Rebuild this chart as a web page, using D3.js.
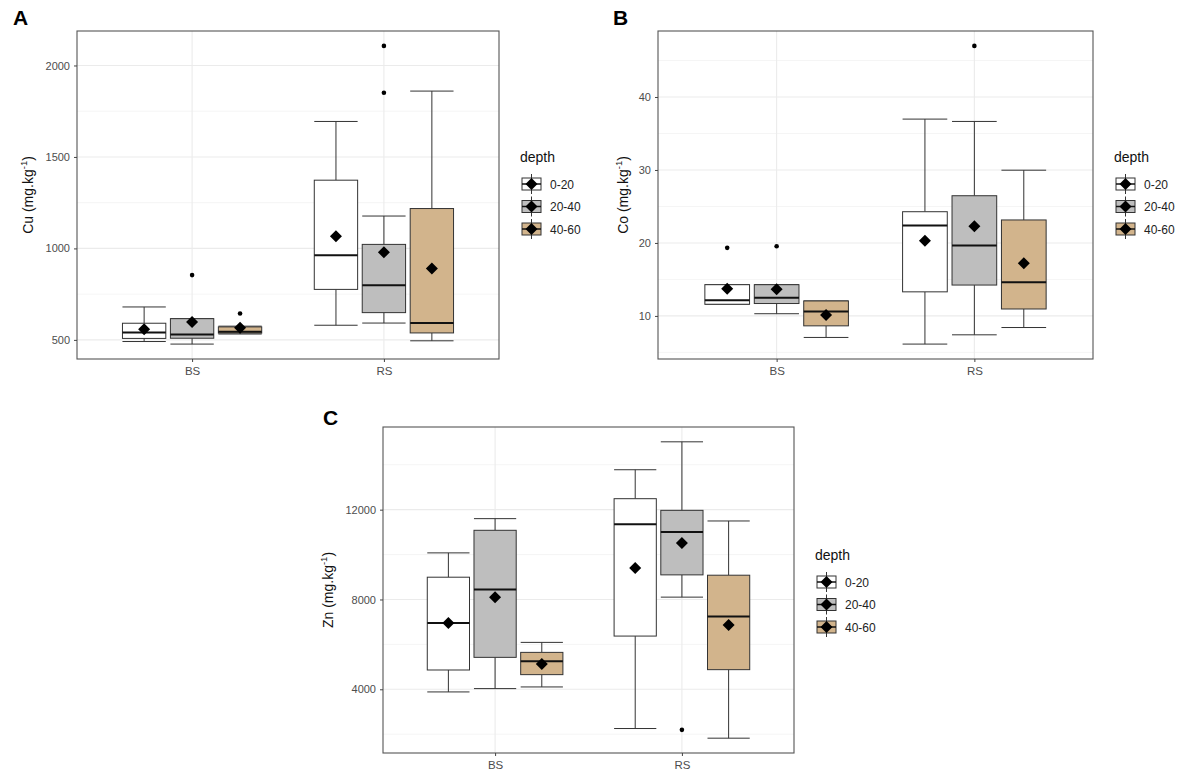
<!DOCTYPE html>
<html><head><meta charset="utf-8">
<script src="https://cdn.jsdelivr.net/npm/d3@7"></script>
<style>body{margin:0;background:#fff}svg{display:block}text{font-family:"Liberation Sans",Arial,sans-serif}</style>
</head><body><svg id="c" width="1181" height="774"></svg>
<script>
const categories = ["BS", "RS"];
const depths = ["0-20", "20-40", "40-60"];
// order: BS 0-20, BS 20-40, BS 40-60, RS 0-20, RS 20-40, RS 40-60
const cuLow  = [491, 477, 532, 580, 592, 495];
const cuQ1   = [508, 509, 537, 776, 649, 538];
const cuMed  = [540, 530, 545, 962, 799, 592];
const cuQ3   = [591, 616, 571, 1373, 1022, 1218];
const cuHigh = [680, 616, 575, 1694, 1177, 1860];
const cuMean = [558, 598, 567, 1066, 979, 890];
const cuOut  = [[], [854], [644], [], [2107, 1851], []];
const cuTicks = [500, 1000, 1500, 2000];

const coLow  = [11.6, 10.3, 7.05, 6.14, 7.41, 8.41];
const coQ1   = [11.6, 11.7, 8.64, 13.3, 14.23, 10.95];
const coMed  = [12.14, 12.5, 10.6, 22.4, 19.65, 14.6];
const coQ3   = [14.28, 14.28, 12.05, 24.28, 26.47, 23.15];
const coHigh = [14.28, 14.28, 12.05, 36.97, 36.65, 29.97];
const coMean = [13.74, 13.64, 10.14, 20.3, 22.28, 17.23];
const coOut  = [[19.33], [19.55], [], [], [47.0], []];
const coTicks = [10, 20, 30, 40];

const znLow  = [3882, 4030, 4104, 2252, 8104, 1822];
const znQ1   = [4859, 5422, 4652, 6370, 9096, 4874];
const znMed  = [6947, 8444, 5244, 11348, 11007, 7244];
const znQ3   = [8992, 11081, 5644, 12489, 11970, 9081];
const znHigh = [10075, 11600, 6089, 13778, 15022, 11496];
const znMean = [6950, 8104, 5126, 9407, 10519, 6859];
const znOut  = [[], [], [], [], [2193], []];
const znTicks = [4000, 8000, 12000];

const fills = ["#ffffff", "#bebebe", "#d2b48c"];
const svg = d3.select("#c");

function panel(cfg) {
  const g = svg.append("g");
  const n = categories.length * depths.length;
  const rows = d3.range(n).map(i => ({
    cat: categories[Math.floor(i / depths.length)], di: i % depths.length,
    low: cfg.low[i], q1: cfg.q1[i], med: cfg.med[i], q3: cfg.q3[i], high: cfg.high[i],
    mean: cfg.mean[i], out: cfg.out[i]
  }));
  const allV = rows.flatMap(r => [r.low, r.high, r.mean, ...r.out]);
  const [mn, mx] = d3.extent(allV);
  const pad = (mx - mn) * 0.05;
  const y = d3.scaleLinear().domain([mn - pad, mx + pad]).range([cfg.bottom, cfg.top]);
  const x = d3.scalePoint().domain(categories).range([cfg.left, cfg.right]).padding(0.6);
  const step = x.step();
  const dodge = 0.25 * step, bw = 0.226 * step;
  const cx = r => x(r.cat) + (r.di - 1) * dodge;

  // grid
  const minor = cfg.ticks.slice(0, -1).map((t, i) => (t + cfg.ticks[i + 1]) / 2);
  const tstep = cfg.ticks[1] - cfg.ticks[0];
  minor.unshift(cfg.ticks[0] - tstep / 2);
  minor.push(cfg.ticks[cfg.ticks.length - 1] + tstep / 2);
  const dom = y.domain();
  g.selectAll(".mn").data(minor.filter(v => v >= dom[0] && v <= dom[1])).enter().append("line")
    .attr("x1", cfg.left).attr("x2", cfg.right).attr("y1", d => y(d)).attr("y2", d => y(d))
    .attr("stroke", "#f2f2f2").attr("stroke-width", 0.8);
  g.selectAll(".mj").data(cfg.ticks).enter().append("line")
    .attr("x1", cfg.left).attr("x2", cfg.right).attr("y1", d => y(d)).attr("y2", d => y(d))
    .attr("stroke", "#ebebeb").attr("stroke-width", 1.1);
  g.selectAll(".vx").data(categories).enter().append("line")
    .attr("x1", d => x(d)).attr("x2", d => x(d)).attr("y1", cfg.top).attr("y2", cfg.bottom)
    .attr("stroke", "#ebebeb").attr("stroke-width", 1.1);

  // whiskers
  const bx = g.selectAll(".b").data(rows).enter().append("g");
  bx.append("line").attr("x1", cx).attr("x2", cx).attr("y1", d => y(d.high)).attr("y2", d => y(d.q3))
    .attr("stroke", "#333").attr("stroke-width", 1);
  bx.append("line").attr("x1", cx).attr("x2", cx).attr("y1", d => y(d.q1)).attr("y2", d => y(d.low))
    .attr("stroke", "#333").attr("stroke-width", 1);
  bx.append("line").attr("x1", d => cx(d) - bw / 2).attr("x2", d => cx(d) + bw / 2)
    .attr("y1", d => y(d.high)).attr("y2", d => y(d.high)).attr("stroke", "#333").attr("stroke-width", 1);
  bx.append("line").attr("x1", d => cx(d) - bw / 2).attr("x2", d => cx(d) + bw / 2)
    .attr("y1", d => y(d.low)).attr("y2", d => y(d.low)).attr("stroke", "#333").attr("stroke-width", 1);
  bx.append("rect").attr("x", d => cx(d) - bw / 2).attr("width", bw)
    .attr("y", d => y(d.q3)).attr("height", d => Math.max(0.5, y(d.q1) - y(d.q3)))
    .attr("fill", d => fills[d.di]).attr("stroke", "#333").attr("stroke-width", 1);
  bx.append("line").attr("x1", d => cx(d) - bw / 2).attr("x2", d => cx(d) + bw / 2)
    .attr("y1", d => y(d.med)).attr("y2", d => y(d.med)).attr("stroke", "#111").attr("stroke-width", 2);
  bx.selectAll(".o").data(d => d.out.map(v => ({v, d}))).enter().append("circle")
    .attr("cx", o => cx(o.d)).attr("cy", o => y(o.v)).attr("r", 2.3).attr("fill", "#000");
  const ds = 6;
  bx.append("path").attr("d", d => {
    const X = cx(d), Y = y(d.mean);
    return `M${X},${Y - ds}L${X + ds},${Y}L${X},${Y + ds}L${X - ds},${Y}Z`;
  }).attr("fill", "#000");

  // border
  g.append("rect").attr("x", cfg.left).attr("y", cfg.top).attr("width", cfg.right - cfg.left)
    .attr("height", cfg.bottom - cfg.top).attr("fill", "none").attr("stroke", "#555").attr("stroke-width", 1.1);

  // y axis
  const ya = g.append("g").attr("transform", `translate(${cfg.left},0)`)
    .call(d3.axisLeft(y).tickValues(cfg.ticks).tickFormat(d3.format("d")).tickSize(3).tickPadding(4));
  ya.select(".domain").remove();
  ya.selectAll("line").attr("stroke", "#444");
  ya.selectAll("text").attr("fill", "#4d4d4d").style("font-size", "11px").style("font-family", "Liberation Sans, Arial, sans-serif");
  const xa = g.append("g").attr("transform", `translate(0,${cfg.bottom})`)
    .call(d3.axisBottom(x).tickSize(3).tickPadding(5));
  xa.select(".domain").remove();
  xa.selectAll("line").attr("stroke", "#444");
  xa.selectAll("text").attr("fill", "#4d4d4d").style("font-size", "11.5px").style("font-family", "Liberation Sans, Arial, sans-serif");

  // y title
  const yt = g.append("text").attr("transform", `translate(${cfg.ytx},${(cfg.top + cfg.bottom) / 2}) rotate(-90)`)
    .attr("text-anchor", "middle").style("font-size", "14px").attr("fill", "#111");
  yt.append("tspan").text(cfg.ylab + " (mg.kg");
  yt.append("tspan").attr("dy", -6).style("font-size", "9.5px").text("-1");
  yt.append("tspan").attr("dy", 6).text(")");

  // panel letter
  g.append("text").attr("x", cfg.lx).attr("y", cfg.ly).style("font-size", "21px").style("font-weight", "bold").text(cfg.letter);

  // legend
  const L = g.append("g");
  L.append("text").attr("x", cfg.legX - 2).attr("y", cfg.legY).style("font-size", "14px").attr("fill", "#111").text("depth");
  const ki = L.selectAll(".k").data(depths).enter().append("g")
    .attr("transform", (d, i) => `translate(${cfg.legX},${cfg.legY + 22 + i * 22.5})`);
  ki.append("rect").attr("x", 0).attr("y", -6).attr("width", 19).attr("height", 12)
    .attr("fill", (d, i) => fills[i]).attr("stroke", "#333").attr("stroke-width", 1);
  ki.append("line").attr("x1", 0).attr("x2", 19).attr("y1", 0).attr("y2", 0).attr("stroke", "#111").attr("stroke-width", 1.5);
  ki.append("line").attr("x1", 9.5).attr("x2", 9.5).attr("y1", -10).attr("y2", 10).attr("stroke", "#333").attr("stroke-width", 1);
  ki.append("path").attr("d", `M9.5,-6L15.5,0L9.5,6L3.5,0Z`).attr("fill", "#000");
  ki.append("text").attr("x", 28).attr("y", 4.5).style("font-size", "12px").attr("fill", "#222").text(d => d);
}

panel({left: 77, right: 499, top: 31, bottom: 359, low: cuLow, q1: cuQ1, med: cuMed, q3: cuQ3, high: cuHigh,
  mean: cuMean, out: cuOut, ticks: cuTicks, ylab: "Cu", ytx: 33, letter: "A", lx: 13, ly: 25, legX: 522, legY: 162});
panel({left: 658, right: 1093, top: 31, bottom: 359, low: coLow, q1: coQ1, med: coMed, q3: coQ3, high: coHigh,
  mean: coMean, out: coOut, ticks: coTicks, ylab: "Co", ytx: 628, letter: "B", lx: 613, ly: 25, legX: 1116, legY: 162});
panel({left: 383, right: 794, top: 427, bottom: 753, low: znLow, q1: znQ1, med: znMed, q3: znQ3, high: znHigh,
  mean: znMean, out: znOut, ticks: znTicks, ylab: "Zn", ytx: 333, letter: "C", lx: 323, ly: 425, legX: 817, legY: 560});
</script></body></html>
